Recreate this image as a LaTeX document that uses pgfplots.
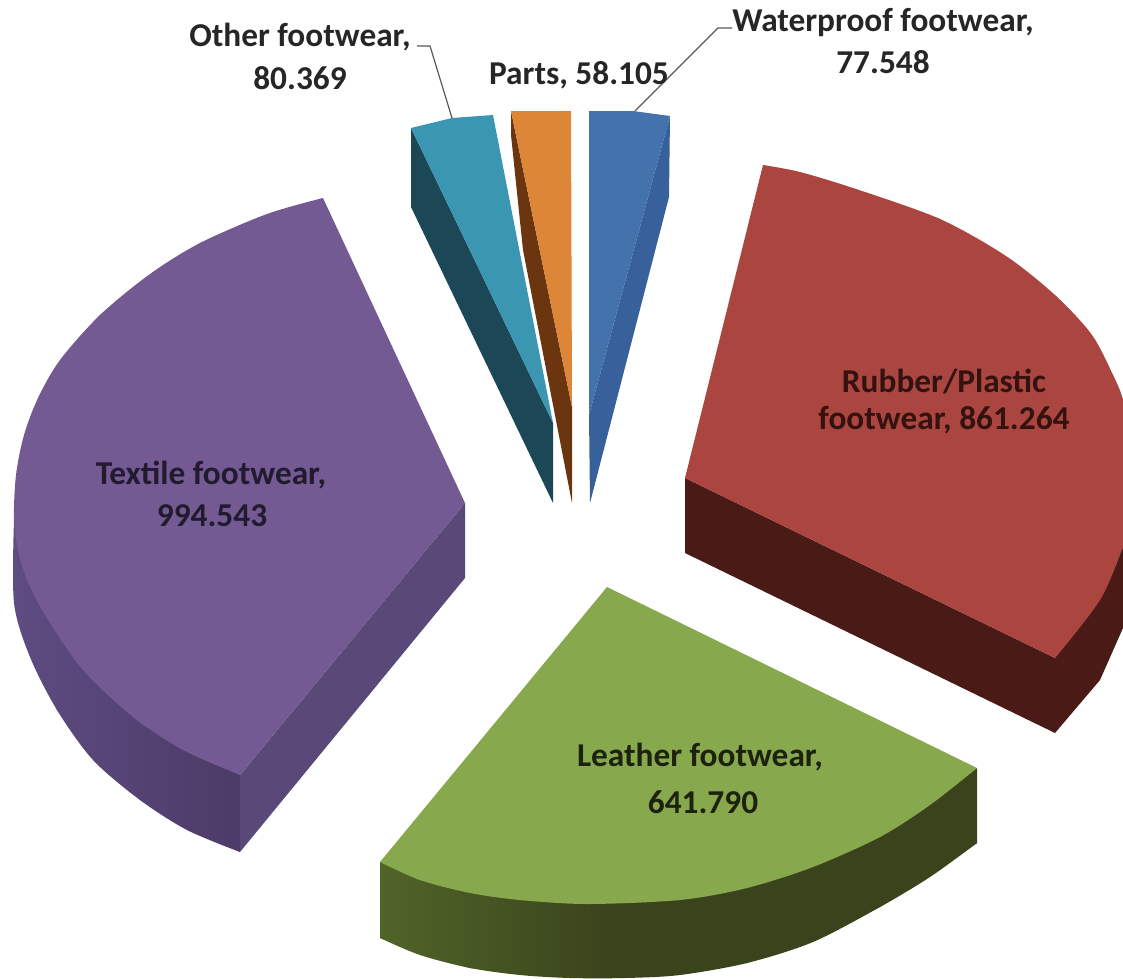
\documentclass[border=0pt]{standalone}
\usepackage{pgfplots}
\pgfplotsset{compat=1.18}
\usepackage{fontspec}
\setmainfont{Carlito}
% slice colours
\definecolor{purpT}{HTML}{735A92}
\definecolor{purpS}{HTML}{5A4878}
\definecolor{purpA}{HTML}{5E4C82}
\definecolor{purpB}{HTML}{4C3A68}
\definecolor{grnT}{HTML}{88A84D}
\definecolor{grnA}{HTML}{506428}
\definecolor{grnB}{HTML}{3A441C}
\definecolor{redT}{HTML}{AB4540}
\definecolor{redS}{HTML}{4A1A16}
\definecolor{tealT}{HTML}{3B96B2}
\definecolor{tealS}{HTML}{1B4757}
\definecolor{orgT}{HTML}{DD8638}
\definecolor{orgS}{HTML}{6B3510}
\definecolor{bluT}{HTML}{4472AC}
\definecolor{bluS}{HTML}{38609A}
% side of the green slice: fades out over the first third
\pgfdeclarehorizontalshading{grnside}{100bp}{color(0bp)=(grnA); color(25bp)=(grnA); color(44bp)=(grnB); color(100bp)=(grnB)}
\tikzset{lab/.style={font=\fontsize{25}{29}\selectfont\bfseries, align=center, inner sep=0pt, anchor=center}}
\begin{document}
\begin{tikzpicture}
\begin{axis}[
  scale only axis,
  width=842.25pt, height=733.5pt,
  xmin=0, xmax=1123, ymin=0, ymax=978,
  y dir=reverse,
  hide axis,
  clip=true,
]
\path (axis cs:0,0) rectangle (axis cs:1123,978);
% Textile footwear
\addplot[draw=none, left color=purpA, right color=purpB, shading=axis] coordinates {
  (14,520) (14,603) (57,710) (140,800) (240,852) (240,775)} --cycle;
\addplot[draw=none, smooth, left color=purpA, right color=purpB, shading=axis] coordinates {
  (14,520) (14,603) (30,657) (57,710) (93,760) (140,800) (187,830) (240,852)} --cycle;
\addplot[fill=purpS, draw=none] coordinates {(240,775) (465,503) (465,578) (240,852)} --cycle;
\addplot[fill=purpT, draw=none] coordinates {
  (323,198) (465,503) (240,775) (133,717) (50,623) (14,520) (38,398) (100,315) (200,243)} --cycle;
\addplot[fill=purpT, draw=none, smooth] coordinates {
  (323,198) (267,214) (200,243) (150,274) (100,315) (60,360) (38,398) (24,435) (16,475) (14,520) (19,555)
  (30,587) (50,623) (83,670) (133,717) (183,750) (240,775)} --cycle;
% Leather footwear
\addplot[draw=none, shading=grnside] coordinates {
  (380,862) (380,938) (470,968) (570,977) (747,963) (880,907) (977,843) (977,768)} --cycle;
\addplot[draw=none, smooth, shading=grnside] coordinates {
  (380,938) (420,955) (470,968) (520,975) (570,978) (625,978) (680,975) (747,963) (813,942) (880,907) (930,877) (977,843)} --cycle;
\addplot[fill=grnT, draw=none] coordinates {
  (607,587) (977,768) (880,837) (680,900) (520,900) (420,880) (380,862)} --cycle;
\addplot[fill=grnT, draw=none, smooth] coordinates {
  (380,862) (420,880) (470,893) (520,900) (587,904) (680,900) (747,888) (813,867) (880,837) (930,805) (977,768)} --cycle;
% Rubber/Plastic footwear
\addplot[fill=redS, draw=none] coordinates {
  (685,478) (1055,658) (1123,547) (1123,628) (1100,680) (1055,733) (685,553)} --cycle;
\addplot[fill=redT, draw=none] coordinates {
  (763,165) (940,219) (1056,296) (1113,375) (1123,400) (1123,547) (1055,658) (685,478)} --cycle;
\addplot[fill=redT, draw=none, smooth] coordinates {
  (763,165) (800,172) (856,189) (940,219) (1006,256) (1056,296) (1092,335) (1113,375) (1123,400)
  (1133,450) (1135,490) (1130,525) (1123,547) (1100,600) (1055,658)} --cycle;
% Other footwear
\addplot[fill=tealS, draw=none] coordinates {(411,128) (553,423) (553,503) (411,207)} --cycle;
\addplot[fill=tealT, draw=none] coordinates {(411,128) (452,118) (493,115) (553,423)} --cycle;
% Parts
\addplot[fill=orgS, draw=none] coordinates {(511,111) (572,407) (572,503) (523,250) (511,135)} --cycle;
\addplot[fill=orgT, draw=none] coordinates {(511,111) (571,111) (572,407)} --cycle;
% Waterproof footwear
\addplot[fill=bluS, draw=none] coordinates {(670,116) (669,197) (590,503) (589,415)} --cycle;
\addplot[fill=bluT, draw=none] coordinates {(589,111) (633,111) (670,116) (589,415)} --cycle;
% leader lines
\addplot[draw=black!65, line width=0.9pt] coordinates {(417,46) (430,46) (452,118)};
\addplot[draw=black!65, line width=0.9pt] coordinates {(732,28) (718,28) (635,111)};
% labels
\node[lab, text=black!85] at (axis cs:300,37) {Other footwear,};
\node[lab, text=black!85] at (axis cs:300,78) {80.369};
\node[lab, text=black!85] at (axis cs:579,75) {Parts, 58.105};
\node[lab, text=black!85] at (axis cs:883,23) {Waterproof footwear,};
\node[lab, text=black!85] at (axis cs:883,62) {77.548};
\node[lab, text=redS!70!black] at (axis cs:944,382) {Rubber/Plastic};
\node[lab, text=redS!70!black] at (axis cs:944,420) {footwear, 861.264};
\node[lab, text=purpB!45!black] at (axis cs:211,475) {Textile footwear,};
\node[lab, text=purpB!45!black] at (axis cs:212,516) {994.543};
\node[lab, text=grnB!50!black] at (axis cs:700,757) {Leather footwear,};
\node[lab, text=grnB!50!black] at (axis cs:703,802) {641.790};
\end{axis}
\end{tikzpicture}
\end{document}
